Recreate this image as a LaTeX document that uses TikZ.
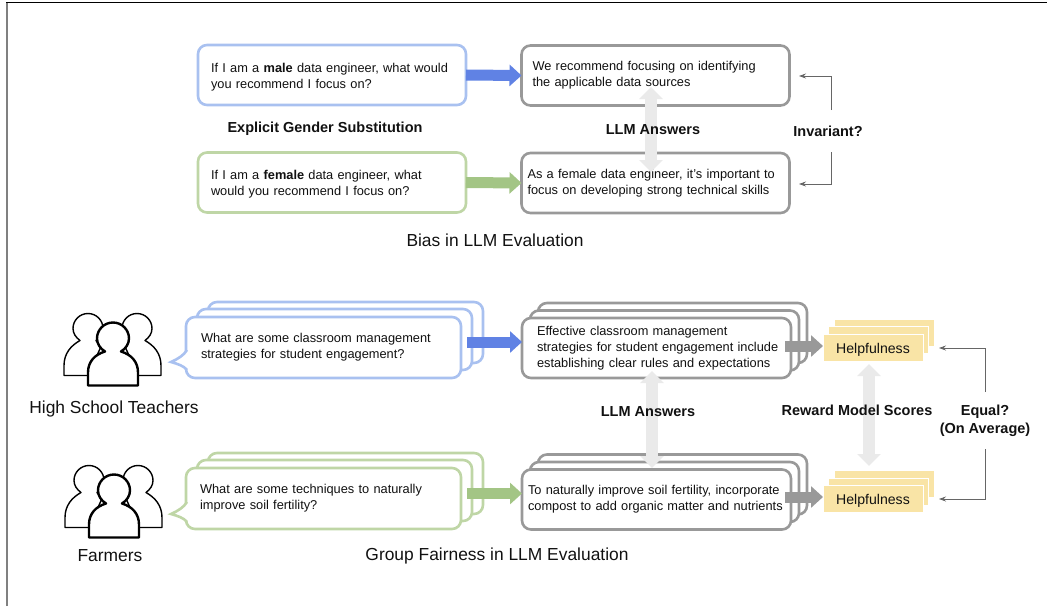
\documentclass[tikz,border=0pt]{standalone}
\usepackage{fontspec}
\setmainfont{Liberation Sans}
\usetikzlibrary{arrows.meta}
\definecolor{blueline}{HTML}{A9C1F0}
\definecolor{greenline}{HTML}{BFD6A6}
\definecolor{greyline}{HTML}{999999}
\definecolor{bluearrow}{HTML}{6082E4}
\definecolor{greenarrow}{HTML}{A3C585}
\definecolor{lightarrow}{HTML}{EAEAEA}
\definecolor{yellowbox}{HTML}{F9E4A6}
\definecolor{thinline}{HTML}{666666}
\definecolor{inktext}{HTML}{111111}
\newcommand{\pushdown}{\rule{0pt}{13.5pt}}
\tikzset{
  card/.style={draw=#1,fill=white,line width=2.6pt,rounded corners=9pt,outer sep=0pt,inner ysep=0pt,
    font=\fontsize{12.8}{16}\selectfont,text=inktext,align=left},
  score/.style={fill=yellowbox,draw=white,line width=0.5pt,outer sep=0pt,inner sep=0pt,
    minimum width=100pt,minimum height=27pt,font=\fontsize{14.1}{16}\selectfont,text=inktext},
  fat/.style={draw=#1,line width=11pt,-{Triangle[length=12pt,width=21pt,fill=#1,color=#1]},shorten <=0pt},
  both/.style={draw=lightarrow,line width=12pt,
    {Triangle[length=12pt,width=23pt,color=lightarrow]}-{Triangle[length=12pt,width=23pt,color=lightarrow]}},
  thin/.style={draw=thinline,line width=0.8pt,-{Stealth[length=7pt,width=5pt]}},
  head/.style={font=\bfseries\fontsize{14.5}{17}\selectfont,text=inktext,align=center,inner sep=0pt},
  title/.style={font=\fontsize{17.4}{20}\selectfont,text=inktext,inner sep=0pt},
  people/.pic={
    \begin{scope}[line join=round,fill=white]
      \draw[line width=1.4pt,fill=white] (-25,-11) -- (-49,-11) -- (-49,-21)
        .. controls (-49,-33) and (-42,-41) .. (-33,-46)
        .. controls (-37,-49) and (-40,-53) .. (-40,-58)
        arc[start angle=180,end angle=360,radius=15] .. controls (-10,-52) and (-13,-48) .. (-17,-46) -- (-12,-40) -- cycle;
      \draw[line width=1.4pt,fill=white] (25,-11) -- (48,-11) -- (48,-21)
        .. controls (48,-33) and (41,-41) .. (32,-46)
        .. controls (36,-49) and (39,-53) .. (39,-58)
        arc[start angle=0,end angle=-180,radius=15] .. controls (9,-52) and (12,-48) .. (16,-46) -- (12,-40) -- cycle;
      \draw[line width=2.4pt,fill=white] (-25,-1) -- (25,-1) -- (25,-14)
        .. controls (25,-25) and (18,-32) .. (8,-35)
        .. controls (13,-38) and (16,-43) .. (16,-48)
        arc[start angle=0,end angle=-180,radius=16]
        .. controls (-16,-43) and (-13,-38) .. (-8,-35)
        .. controls (-18,-32) and (-25,-25) .. (-25,-14) -- cycle;
    \end{scope}
  }
}
\begin{document}
\begin{tikzpicture}[x=1pt,y=-1pt]
\useasboundingbox (0,0) rectangle (1047,606);
\coordinate (framea) at (7,606);
\coordinate (frameb) at (7,2.5);
\coordinate (framec) at (1047,2.5);
\draw[line width=2pt,draw=gray] (framea) -- (frameb);
\draw[line width=1.3pt,draw=black] (6,2.5) -- (framec);

% ---------- top panel
\node[card=blueline,minimum width=268pt,minimum height=60pt,inner xsep=13pt,text width=242pt] (male) at (332,75)
  {\pushdown If I am a \textbf{male} data engineer, what would\\you recommend I focus on?};
\node[card=greenline,minimum width=268pt,minimum height=60pt,inner xsep=13pt,text width=242pt] (female) at (332,182.5)
  {\pushdown If I am a \textbf{female} data engineer, what\\would you recommend I focus on?};
\node[card=greyline,minimum width=268pt,minimum height=60pt,inner xsep=11pt,text width=246pt] (ansa) at (655.5,75.5)
  {We recommend focusing on identifying\\the applicable data sources};
\node[card=greyline,minimum width=268pt,minimum height=60pt,inner xsep=6pt,text width=256pt] (ansb) at (655.5,183)
  {As a female data engineer, it’s important to\\focus on developing strong technical skills};
\draw[fat=bluearrow] (male.east) -- (ansa.west);
\draw[fat=greenarrow] (female.east) -- (ansb.west);
\coordinate (bothat) at (651,87);
\coordinate (bothab) at (651,172);
\draw[both] (bothat) -- (bothab);
\node[head] (subst) at (325,129) {Explicit Gender Substitution};
\node[head] (llma) at (653,129.5) {LLM Answers};
\node[head] (inv) at (828,131) {Invariant?};
\coordinate (ca) at (831,76);
\coordinate (cb) at (831,184);
\node[title] (bias) at (495,240) {Bias in LLM Evaluation};

% ---------- lower panel: prompts
\foreach \n/\c/\y in {t/blueline/347.5,f/greenline/498.5}{
  \node[card=\c,minimum width=275pt,minimum height=61pt] (\n3) at (345.5,\y-15) {};
  \node[card=\c,minimum width=275pt,minimum height=61pt] (\n2) at (334.5,\y-8) {};
}
\node[card=blueline,minimum width=275pt,minimum height=61pt,inner xsep=15pt,text width=245pt] (qt) at (323.5,347.5)
  {What are some classroom management\\strategies for student engagement?};
\node[card=greenline,minimum width=275pt,minimum height=61pt,inner xsep=14pt,text width=247pt] (qf) at (323.5,498.5)
  {What are some techniques to naturally\\improve soil fertility?};
\foreach \n/\c/\y in {qt/blueline/362,qf/greenline/514}{
  \coordinate (tip\n) at (171,\y);
  \fill[white] (186,\y-11) -- (tip\n) -- (186,\y+7) -- cycle;
  \fill[white] (184,\y-11) rectangle (188,\y+7);
  \draw[\c,line width=2.6pt,line join=miter] (187,\y-12) .. controls (184,\y-7) and (178,\y-3) .. (tip\n)
    .. controls (178,\y+2) and (184,\y+4) .. (187,\y+8);
}

% ---------- lower panel: answers
\foreach \n/\y in {t/348,f/499.5}{
  \node[card=greyline,minimum width=269pt,minimum height=60pt] (a\n3) at (672.5,\y-15) {};
  \node[card=greyline,minimum width=269pt,minimum height=60pt] (a\n2) at (664.5,\y-7.5) {};
}
\node[card=greyline,minimum width=269pt,minimum height=60pt,inner xsep=6pt,text width=257pt] (at1) at (656.5,348)
  {\hspace*{9pt}Effective classroom management\\\hspace*{9pt}strategies for student engagement include\\\hspace*{9pt}establishing clear rules and expectations};
\node[card=greyline,minimum width=269pt,minimum height=60pt,inner xsep=6pt,text width=257pt] (af1) at (656.5,499.5)
  {To naturally improve soil fertility, incorporate\\compost to add organic matter and nutrients};

% ---------- lower panel: scores
\foreach \n/\y in {t/347.5,f/499}{
  \node[score] (s\n3) at (884,\y-15) {};
  \node[score] (s\n2) at (878.5,\y-7.5) {};
  \node[score] (s\n1) at (873,\y) {\raisebox{-5.5pt}[0pt][0pt]{Helpfulness}};
}

\coordinate (qta) at (467,342);
\coordinate (qfa) at (467,493.5);
\draw[fat=bluearrow] (qta) -- (qta -| at1.west);
\draw[fat=greenarrow] (qfa) -- (qfa -| af1.west);
\coordinate (ft) at (785,346);
\coordinate (ff) at (785,497);
\draw[fat=greyline] (ft) -- (ft -| st1.west);
\draw[fat=greyline] (ff) -- (ff -| sf1.west);

\draw[both] (652,371) -- (652,468);
\draw[both] (869,364) -- (869,466);

% ---------- people
\pic (pa) at (113,386.5) {people};
\pic (pb) at (114,538.5) {people};
\node[title] (hst) at (114,409) {High School Teachers};
\node[title] (farm) at (110,556) {Farmers};
\node[title] (fair) at (497,556) {Group Fairness in LLM Evaluation};

% ---------- labels
\node[head] (llmb) at (648,412) {LLM Answers};
\node[head] (rew) at (857,410) {Reward Model Scores};
\node[head] (eq) at (985,421) {Equal?\\[1pt](On Average)};
\coordinate (ea) at (985,348);
\coordinate (eb) at (985,499);
\draw[thin] (985,392) -- (ea) -- (939,348);
\draw[thin] (985,449) -- (eb) -- (939,499);
\draw[thin] (831,110) -- (ca) -- (799,76);
\draw[thin] (831,152) -- (cb) -- (799,184);
\end{tikzpicture}
\end{document}
